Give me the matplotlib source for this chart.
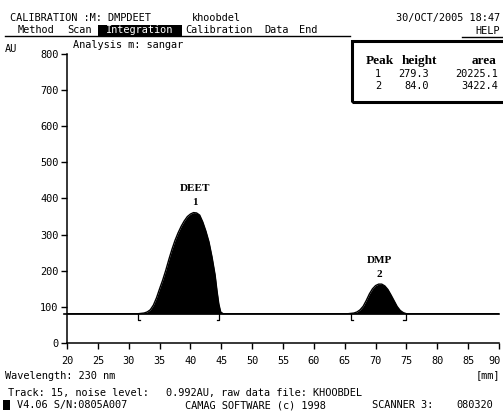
import matplotlib
matplotlib.use("Agg")
import matplotlib.pyplot as plt
import matplotlib.transforms as mtransforms
from matplotlib.patches import Rectangle
from matplotlib.lines import Line2D

W, H = 503, 415

# ---- data ----
baseline_au = 81
trace_mm = [20, 31.5, 32.5, 33.0, 33.5, 34.0, 34.5, 35.0, 35.5, 36.0, 36.5, 37.0, 37.5, 38.0,
            38.5, 39.0, 39.5, 40.0, 40.5, 41.0, 41.5, 42.0, 42.5, 43.0, 43.5, 44.0,
            44.3, 44.6, 44.9, 45.3, 50, 55, 60, 65.5, 66.5, 67.0, 67.5, 68.0, 68.5,
            69.0, 69.5, 70.0, 70.5, 71.0, 71.5, 72.0, 72.5, 73.0, 73.5, 74.0, 74.5,
            75.0, 80, 85, 90]
trace_au = [81, 81, 83, 86, 92, 105, 125, 150, 174, 201, 231, 259, 284, 305,
            323, 338, 350, 357, 361, 360, 354, 335, 310, 280, 238, 188,
            145, 108, 86, 81, 81, 81, 81, 81, 83, 86, 92, 102, 118,
            136, 150, 159, 163, 163, 158, 148, 133, 117, 101, 90, 84,
            81, 81, 81, 81]

peak_names = ["DEET", "DMP"]
peak_ids = ["1", "2"]
peak_pos_mm = [40.7, 70.6]
peak_top_au = [361, 163]
peak_start_mm = [31.5, 66.0]
peak_end_mm = [44.7, 74.9]
peak_heights = ["279.3", "84.0"]
peak_areas = ["20225.1", "3422.4"]

x_ticks = list(range(20, 95, 5))
y_ticks = list(range(0, 900, 100))

MONO = "DejaVu Sans Mono"
FS = 7.4

fig = plt.figure(figsize=(W / 100, H / 100), dpi=100)
fig.patch.set_facecolor("white")


def fx(px):
    return px / W


def fy(py):
    return 1 - py / H


def ftext(x, y, s, ha="left", **kw):
    kw.setdefault("family", MONO)
    kw.setdefault("fontsize", FS)
    fig.text(fx(x), fy(y), s, ha=ha, va="center", **kw)


# ---- axes ----
ax = fig.add_axes([fx(67), fy(343), (499 - 67) / W, (343 - 54) / H])
ax.set_xlim(20, 90)
ax.set_ylim(0, 800)
for s in ("top", "right"):
    ax.spines[s].set_visible(False)
for s in ("left", "bottom"):
    ax.spines[s].set_linewidth(1.1)
ax.set_xticks(x_ticks)
ax.set_yticks(y_ticks)
ax.tick_params(direction="out", length=4, width=1.0, pad=2,
               labelsize=FS, colors="black")
ax.tick_params(axis="x", pad=5)
for lab in ax.get_xticklabels() + ax.get_yticklabels():
    lab.set_family(MONO)
# keep the last x label inside the picture, as in the reference
last = ax.get_xticklabels()[-1]
last.set_transform(last.get_transform() +
                   mtransforms.ScaledTranslation(-4 / 100, 0, fig.dpi_scale_trans))
ax.patch.set_alpha(0)

ax.fill_between(trace_mm, baseline_au, trace_au, color="black", lw=0)
ax.plot(trace_mm, trace_au, color="black", lw=1.0, solid_joinstyle="round")
ax.plot([19.5, 90], [baseline_au, baseline_au], color="black", lw=1.2, clip_on=False)

# brackets
for s_mm, e_mm in zip(peak_start_mm, peak_end_mm):
    ax.plot([s_mm, s_mm, s_mm + 0.4], [baseline_au, baseline_au - 16, baseline_au - 16],
            color="black", lw=0.9)
    ax.plot([e_mm, e_mm, e_mm - 0.4], [baseline_au, baseline_au - 16, baseline_au - 16],
            color="black", lw=0.9)

# peak labels
for name, pid, xm, top in zip(peak_names, peak_ids, peak_pos_mm, peak_top_au):
    ax.annotate(name, (xm, top), xytext=(0, 17), textcoords="offset points",
                ha="center", va="center", family="Liberation Serif",
                fontsize=8, weight="bold")
    ax.annotate(pid, (xm, top), xytext=(0, 7), textcoords="offset points",
                ha="center", va="center", family="Liberation Serif",
                fontsize=8, weight="bold")

# ---- header ----
ftext(10, 18, "CALIBRATION :M: DMPDEET")
ftext(192, 18, "khoobdel")
ftext(500, 18, "30/OCT/2005 18:47", ha="right")

fig.add_artist(Rectangle((fx(98), fy(36)), (182 - 98) / W, (36 - 25) / H,
                         transform=fig.transFigure, color="black", lw=0))
ftext(18, 30, "Method")
ftext(67, 30, "Scan")
ftext(106, 30, "Integration", color="white")
ftext(185, 30, "Calibration")
ftext(264, 30, "Data")
ftext(299, 30, "End")
ftext(500, 31, "HELP", ha="right")
fig.add_artist(Line2D([fx(5), fx(350)], [fy(36), fy(36)], color="black", lw=1.0))
fig.add_artist(Line2D([fx(462), fx(502)], [fy(37), fy(37)], color="black", lw=1.0))

ftext(73, 45, "Analysis m: sangar")
ftext(5, 49, "AU")

# ---- table box ----
fig.add_artist(Rectangle((fx(352), fy(102)), (510 - 352) / W, (102 - 41) / H,
                         transform=fig.transFigure, fill=False, ec="black", lw=2.2))
ftext(366, 61, "Peak", family="Liberation Serif", fontsize=9.5, weight="bold")
ftext(402, 61, "height", family="Liberation Serif", fontsize=9.5, weight="bold")
ftext(497, 61, "area", ha="right", family="Liberation Serif", fontsize=9.5, weight="bold")
for i, (pid, h, a) in enumerate(zip(peak_ids, peak_heights, peak_areas)):
    yy = 74 + i * 12
    ftext(378, yy, pid, ha="center")
    ftext(429, yy, h, ha="right")
    ftext(498, yy, a, ha="right")

# ---- footer ----
ftext(5, 376, "Wavelength: 230 nm")
ftext(500, 375, "[mm]", ha="right")
ftext(8, 393, "Track: 15, noise level:")
ftext(166, 393, "0.992AU, raw data file: KHOOBDEL")
fig.add_artist(Rectangle((fx(3), fy(410)), 7 / W, 10 / H,
                         transform=fig.transFigure, color="black", lw=0))
ftext(17, 405, "V4.06 S/N:0805A007")
ftext(185, 405, "CAMAG SOFTWARE (c) 1998")
ftext(372, 405, "SCANNER 3:")
ftext(456, 405, "080320")

fig.savefig("out.png", dpi=100)
